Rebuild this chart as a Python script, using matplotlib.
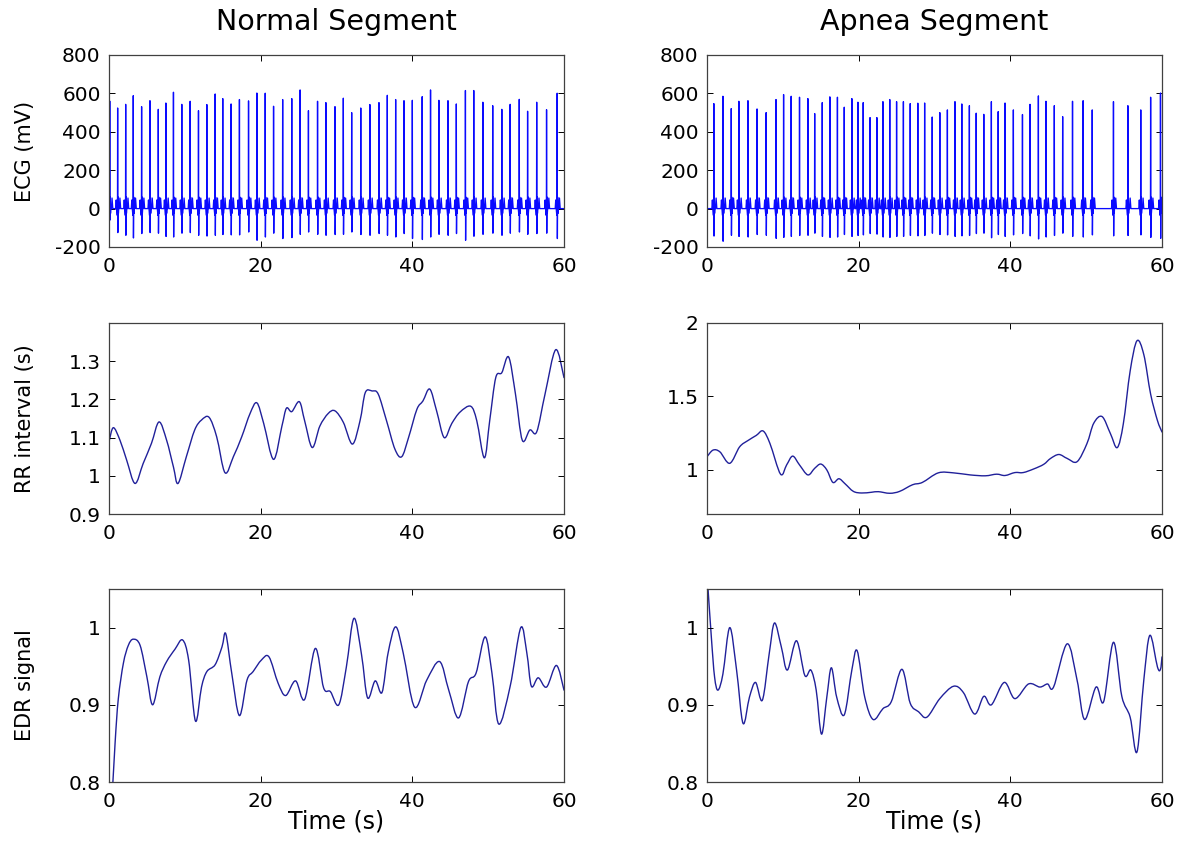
import numpy as np
import matplotlib
matplotlib.use("Agg")
import matplotlib.pyplot as plt
from matplotlib.ticker import FormatStrFormatter
from matplotlib.path import Path
from matplotlib.patches import PathPatch

plt.rcParams['font.family'] = ['DejaVu Sans']

# ---------------- data ----------------
# Normal segment ECG: R-peak times (s), R amplitudes (mV), S-trough amplitudes (mV)
normal_r_times = [0.1, 1.14, 2.2, 3.2, 4.3, 5.4, 6.5, 7.5, 8.5, 9.6, 10.7, 11.8, 12.9, 14.0,
                  15.0, 16.1, 17.2, 18.4, 19.5, 20.6, 21.7, 22.9, 24.1, 25.2, 26.3, 27.5,
                  28.6, 29.8, 30.9, 32.0, 33.2, 34.4, 35.6, 36.7, 37.8, 38.9, 40.0, 41.3,
                  42.4, 43.5, 44.7, 45.8, 47.0, 48.1, 49.3, 50.6, 51.8, 52.9, 54.1, 55.2,
                  56.4, 57.7, 59.1]
normal_r_amps = [560, 524, 543, 588, 531, 562, 517, 550, 606, 543, 559, 510, 542, 597,
                 573, 545, 568, 561, 602, 601, 533, 568, 573, 618, 510, 559,
                 552, 531, 575, 500, 524, 542, 552, 590, 568, 562, 564, 583,
                 618, 564, 562, 545, 615, 615, 554, 536, 517, 543, 569, 507,
                 554, 515, 601]
normal_s_amps = [-60, -125, -139, -153, -130, -125, -128, -145, -148, -128, -125, -139, -143,
                 -139, -135, -137, -137, -122, -165, -148, -128, -156, -151, -134, -122,
                 -134, -139, -135, -134, -122, -135, -139, -130, -139, -148, -130, -156,
                 -161, -148, -134, -139, -130, -165, -144, -134, -128, -139, -128, -122,
                 -134, -130, -128, -156]

# Apnea segment ECG
apnea_r_times = [0.9, 2.1, 3.2, 4.2, 5.4, 6.6, 7.8, 9.1, 10.1, 11.1, 12.2, 13.3, 14.2,
                 15.2, 16.2, 17.2, 18.1, 19.1, 19.9, 20.6, 21.5, 22.4, 23.2, 24.1, 25.0,
                 25.9, 26.8, 27.8, 28.7, 29.7, 30.7, 31.7, 32.7, 33.6, 34.6, 35.5, 36.5,
                 37.5, 38.4, 39.3, 40.4, 41.6, 42.6, 43.7, 44.7, 45.8, 46.9, 48.2, 49.6,
                 50.8, 53.6, 55.5, 57.2, 58.5, 59.8]
apnea_r_amps = [547, 585, 521, 559, 562, 519, 500, 568, 594, 585, 580, 573, 495,
                552, 582, 580, 528, 573, 554, 552, 474, 474, 557, 568, 557,
                557, 547, 549, 550, 477, 500, 514, 557, 545, 536, 497, 491,
                557, 505, 550, 514, 490, 543, 587, 559, 536, 479, 559, 562,
                514, 557, 536, 514, 580, 602]
apnea_s_amps = [-143, -170, -139, -145, -148, -135, -139, -155, -150, -145, -140, -139, -128,
                -145, -150, -148, -135, -145, -140, -137, -130, -133, -148, -150, -145,
                -145, -140, -142, -140, -128, -135, -137, -145, -142, -140, -130, -128,
                -152, -135, -145, -137, -130, -142, -158, -148, -140, -128, -145, -148,
                -137, -142, -140, -137, -150, -155]

# RR interval series (time s, RR s)
rr_normal_t = [0, 0.57, 1.45, 2.33, 3.43, 4.5, 5.6, 6.6, 7.6, 8.5, 9.1, 10.2, 11.3, 12.2,
               13.2, 14.2, 15.3, 16.4, 17.5, 18.6, 19.5, 20.4, 21.7, 22.8, 23.4, 24.1,
               25.1, 25.8, 26.8, 27.8, 28.9, 29.8, 30.9, 32.1, 33.1, 33.8, 34.7, 35.5,
               36.6, 37.7, 38.6, 39.5, 40.6, 41.4, 42.3, 43.2, 44.2, 45.2, 46.3, 47.7,
               48.5, 49.5, 50.2, 51.0, 51.8, 52.7, 53.6, 54.5, 55.5, 56.4, 57.5, 58.9, 60]
rr_normal_v = [1.089, 1.126, 1.093, 1.041, 0.980, 1.032, 1.085, 1.141, 1.093, 1.023, 0.980,
               1.050, 1.120, 1.146, 1.153, 1.102, 1.008, 1.050, 1.102, 1.163, 1.191, 1.137,
               1.043, 1.130, 1.177, 1.168, 1.194, 1.144, 1.074, 1.130, 1.163, 1.170, 1.140,
               1.083, 1.144, 1.218, 1.222, 1.214, 1.144, 1.070, 1.050, 1.100, 1.174, 1.196,
               1.227, 1.170, 1.100, 1.137, 1.167, 1.182, 1.144, 1.047, 1.144, 1.257, 1.270,
               1.311, 1.214, 1.093, 1.120, 1.115, 1.214, 1.330, 1.257]

rr_apnea_t = [0, 0.8, 1.7, 3.0, 4.3, 5.4, 6.5, 7.4, 8.3, 9.7, 10.5, 11.3, 12.2, 13.3, 14.2,
              15.0, 15.8, 16.6, 17.4, 18.2, 19.3, 20.4, 21.7, 22.6, 24.1, 25.4, 27.1,
              28.4, 30.5, 32.5, 34.7, 36.7, 38.2, 39.3, 40.6, 41.7, 43.1, 44.4, 45.3,
              46.4, 47.5, 48.8, 50.1, 51.0, 52.1, 53.2, 54.1, 54.9, 55.8, 56.7, 57.6,
              58.5, 59.4, 60]
rr_apnea_v = [1.09, 1.135, 1.123, 1.045, 1.157, 1.20, 1.235, 1.265, 1.18, 0.971, 1.034,
              1.094, 1.034, 0.966, 1.011, 1.04, 1.0, 0.915, 0.94, 0.906, 0.854, 0.843,
              0.848, 0.852, 0.841, 0.854, 0.899, 0.915, 0.98, 0.98, 0.966, 0.96, 0.971,
              0.962, 0.982, 0.982, 1.007, 1.038, 1.078, 1.105, 1.078, 1.056, 1.179,
              1.318, 1.363, 1.247, 1.152, 1.314, 1.673, 1.879, 1.785, 1.516, 1.336, 1.258]

# EDR signal series
edr_normal_t = [0.3, 0.8, 1.23, 1.9, 2.55, 3.2, 4.1, 5.0, 5.75, 6.7, 7.6, 8.7, 9.7, 10.5,
                11.4, 12.2, 12.9, 14.0, 14.9, 15.4, 16.2, 17.2, 18.2, 19.0, 20.1, 21.1,
                22.3, 23.3, 24.6, 25.8, 27.2, 28.3, 29.2, 30.3, 31.3, 32.3, 33.3, 34.1,
                35.1, 36.0, 36.8, 37.8, 38.8, 40.3, 41.9, 43.6, 44.8, 46.1, 47.4, 48.4,
                49.6, 50.5, 51.4, 52.9, 54.3, 55.1, 55.7, 56.6, 57.7, 59.0, 60]
edr_normal_v = [0.76, 0.85, 0.908, 0.954, 0.977, 0.985, 0.977, 0.936, 0.90, 0.936, 0.956,
                0.972, 0.984, 0.958, 0.879, 0.923, 0.943, 0.952, 0.975, 0.992, 0.94, 0.886,
                0.932, 0.943, 0.958, 0.962, 0.928, 0.912, 0.931, 0.907, 0.973, 0.922,
                0.917, 0.90, 0.949, 1.012, 0.965, 0.909, 0.931, 0.916, 0.967, 1.001,
                0.967, 0.897, 0.932, 0.956, 0.919, 0.883, 0.930, 0.941, 0.988, 0.941,
                0.875, 0.924, 1.0, 0.967, 0.924, 0.935, 0.923, 0.951, 0.919]

edr_apnea_t = [0, 0.57, 1.0, 1.45, 2.1, 3.0, 3.9, 4.75, 5.6, 6.4, 7.3, 8.2, 8.9, 9.8, 10.6,
               11.8, 12.9, 13.7, 14.4, 15.1, 15.8, 16.4, 17.1, 18.1, 19.1, 19.8, 20.8,
               21.9, 23.2, 24.3, 25.7, 26.8, 27.9, 29.0, 30.7, 32.5, 33.8, 35.3, 36.5,
               37.5, 39.2, 40.6, 42.4, 43.9, 44.9, 45.7, 47.5, 48.8, 49.8, 51.3, 52.3,
               53.6, 54.7, 55.8, 56.7, 57.6, 58.4, 59.4, 59.8, 60]
edr_apnea_v = [1.07, 0.988, 0.936, 0.919, 0.94, 1.0, 0.945, 0.876, 0.91, 0.929, 0.906,
               0.966, 1.006, 0.975, 0.945, 0.983, 0.938, 0.945, 0.919, 0.862, 0.91, 0.948,
               0.91, 0.887, 0.945, 0.97, 0.91, 0.881, 0.895, 0.904, 0.946, 0.902, 0.891,
               0.884, 0.908, 0.924, 0.916, 0.888, 0.911, 0.90, 0.929, 0.908, 0.927, 0.923,
               0.927, 0.923, 0.979, 0.932, 0.881, 0.923, 0.904, 0.981, 0.911, 0.884,
               0.839, 0.932, 0.99, 0.949, 0.946, 0.962]

titles = ["Normal Segment", "Apnea Segment"]
ylabels = ["ECG (mV)", "RR interval (s)", "EDR signal"]
xlabel = "Time (s)"
x_ticks = [0, 20, 40, 60]

# ---------------- style ----------------
# beat shape: (offset s, value or 'R'/'S')
beat_offsets = [-0.26, -0.19, -0.13, -0.05, -0.02, 0.0, 0.025, 0.06, 0.10, 0.15, 0.22, 0.30, 0.40]
beat_shape = [0, 45, 0, -35, 10, 'R', 'S', 60, -25, 5, 0, 55, 0]


def build_ecg(times, ramps, samps):
    xs, ys = [0.0], [0.0]
    for t, r, s in zip(times, ramps, samps):
        for off, v in zip(beat_offsets, beat_shape):
            xs.append(t + off)
            ys.append(r if v == 'R' else (s if v == 'S' else v))
    xs.append(60.5)
    ys.append(0.0)
    xs = np.array(xs)
    ys = np.array(ys)
    order = np.argsort(xs, kind='stable')
    return xs[order], ys[order]


def smooth_line(ax, x, y, color, lw):
    """Draw a line through the read points as smooth Bezier segments."""
    p = np.column_stack([x, y]).astype(float)
    n = len(p)
    verts = [p[0]]
    codes = [Path.MOVETO]
    for i in range(n - 1):
        p0 = p[i - 1] if i > 0 else p[i]
        p1 = p[i]
        p2 = p[i + 1]
        p3 = p[i + 2] if i + 2 < n else p[i + 1]
        c1 = p1 + (p2 - p0) / 6.0
        c2 = p2 - (p3 - p1) / 6.0
        verts += [c1, c2, p2]
        codes += [Path.CURVE4] * 3
    patch = PathPatch(Path(verts, codes), fill=False, edgecolor=color, lw=lw,
                      capstyle='round', joinstyle='round')
    ax.add_patch(patch)


W, H = 1185, 841
fig = plt.figure(figsize=(W / 100, H / 100), dpi=100)

col_x = [109, 707]
col_w = 455
row_y = [(55, 247), (323, 514), (589, 782)]

ecg_color = '#0a0aff'
sig_color = '#20209a'
spine_color = '#404040'
tick_fs = 14.5

axes = [[None, None] for _ in range(3)]
for r in range(3):
    for c in range(2):
        top, bot = row_y[r]
        ax = fig.add_axes([col_x[c] / W, 1 - bot / H, col_w / W, (bot - top) / H])
        axes[r][c] = ax
        ax.set_xlim(0, 60)
        ax.set_xticks(x_ticks)
        ax.tick_params(direction='in', top=True, right=True, labelsize=tick_fs,
                       length=4, width=0.7, colors='black')
        ax.tick_params(axis='x', pad=7)
        ax.tick_params(axis='y', pad=6)
        for sp in ax.spines.values():
            sp.set_color(spine_color)
            sp.set_linewidth(0.9)

# ECG
x, y = build_ecg(normal_r_times, normal_r_amps, normal_s_amps)
axes[0][0].plot(x, y, color=ecg_color, lw=0.95)
x, y = build_ecg(apnea_r_times, apnea_r_amps, apnea_s_amps)
axes[0][1].plot(x, y, color=ecg_color, lw=0.95)
for c in range(2):
    axes[0][c].set_ylim(-200, 800)
    axes[0][c].set_yticks([-200, 0, 200, 400, 600, 800])

# RR
smooth_line(axes[1][0], rr_normal_t, rr_normal_v, sig_color, 1.0)
axes[1][0].set_ylim(0.9, 1.4)
axes[1][0].set_yticks([0.9, 1.0, 1.1, 1.2, 1.3])
smooth_line(axes[1][1], rr_apnea_t, rr_apnea_v, sig_color, 1.0)
axes[1][1].set_ylim(0.7, 2.0)
axes[1][1].set_yticks([1.0, 1.5, 2.0])

# EDR
smooth_line(axes[2][0], edr_normal_t, edr_normal_v, sig_color, 1.0)
smooth_line(axes[2][1], edr_apnea_t, edr_apnea_v, sig_color, 1.0)
for c in range(2):
    axes[2][c].set_ylim(0.8, 1.05)
    axes[2][c].set_yticks([0.8, 0.9, 1.0])
    axes[2][c].set_xlabel(xlabel, fontsize=17, labelpad=-1)

for r in range(3):
    for c in range(2):
        axes[r][c].yaxis.set_major_formatter(FormatStrFormatter('%g'))
    axes[r][0].set_ylabel(ylabels[r], fontsize=15)
    axes[r][0].yaxis.set_label_coords(-0.163, 0.5)

for c in range(2):
    axes[0][c].set_title(titles[c], fontsize=20.5, pad=18)

fig.savefig("out.png", dpi=100)
